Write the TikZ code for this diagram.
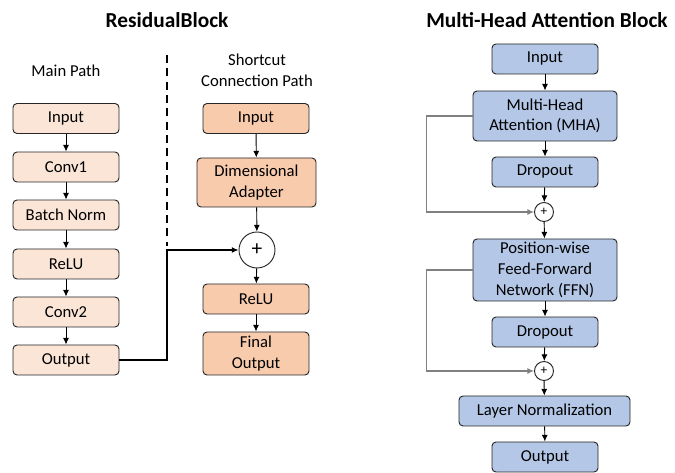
\documentclass[tikz,border=0pt]{standalone}
\usepackage{fontspec}
\setmainfont{Carlito}
\usetikzlibrary{arrows.meta}
\definecolor{paleorange}{HTML}{FBE5D6}
\definecolor{deeporange}{HTML}{F8CBAD}
\definecolor{paleblue}{HTML}{B4C7E7}
\definecolor{edgegray}{HTML}{262626}
\begin{document}
\begin{tikzpicture}[x=0.75pt,y=-0.75pt,
  >={Latex[length=5pt,width=4.5pt]},
  box/.style={draw=edgegray,line width=0.7pt,rounded corners=3pt,align=center,
    inner sep=0pt,minimum width=106*0.75pt,minimum height=30*0.75pt,
    font=\fontsize{12.5}{15.5}\selectfont},
  mainbox/.style={box,fill=paleorange},
  cutbox/.style={box,fill=deeporange},
  mhabox/.style={box,fill=paleblue},
  sumnode/.style={draw=edgegray,line width=0.7pt,circle,fill=white,inner sep=0pt},
  heading/.style={font=\fontsize{16}{19}\selectfont\bfseries},
  label/.style={align=center,font=\fontsize{12.5}{15.5}\selectfont},
  flow/.style={->,line width=0.7pt,black}]
\useasboundingbox (0,0) rectangle (675,473);

\node[heading] (t1) at (167,20) {ResidualBlock};
\node[heading] (t2) at (547,20) {Multi-Head Attention Block};

\node[label] (mainlbl) at (66,71) {Main Path};
\node[label] (cutlbl) at (257,70) {Shortcut\\Connection Path};
\draw[line width=1.4pt,dash pattern=on 6pt off 4pt] (167,55) -- (167,246);

\node[mainbox] (min)  at (66,118.5) {Input};
\node[mainbox] (conv1) at (66,167) {Conv1};
\node[mainbox] (bn)   at (66,215) {Batch Norm};
\node[mainbox] (relu1) at (66,264) {ReLU};
\node[mainbox] (conv2) at (66,312) {Conv2};
\node[mainbox] (mout) at (66,360) {Output};

\node[cutbox] (cin) at (256,118.5) {Input};
\node[cutbox,minimum width=119*0.75pt,minimum height=49*0.75pt] (adapt) at (256.5,182.5) {Dimensional\\Adapter};
\node[sumnode,minimum size=36*0.75pt,font=\fontsize{16}{18}\selectfont] (sum) at (257,250) {+};
\node[cutbox] (relu2) at (256,299) {ReLU};
\node[cutbox,minimum height=43*0.75pt] (final) at (256,353.5) {Final\\Output};
\coordinate (bend) at (167,360);

\draw[flow] (min) -- (conv1);
\draw[flow] (conv1) -- (bn);
\draw[flow] (bn) -- (relu1);
\draw[flow] (relu1) -- (conv2);
\draw[flow] (conv2) -- (mout);
\draw[flow] (cin) -- (adapt);
\draw[flow] (adapt) -- (sum);
\draw[flow] (sum) -- (relu2);
\draw[flow] (relu2) -- (final);
\draw[->,line width=1.5pt] (mout.east) -- (bend) |- (sum.west);

\node[mhabox] (ain) at (545,59) {Input};
\node[mhabox,minimum width=144*0.75pt,minimum height=50*0.75pt] (mha) at (545,116) {Multi-Head\\Attention (MHA)};
\node[mhabox] (drop1) at (545,172) {Dropout};
\node[sumnode,minimum size=19*0.75pt,font=\fontsize{10}{11}\selectfont] (add1) at (544,212) {+};
\node[mhabox,minimum width=144*0.75pt,minimum height=62*0.75pt] (ffn) at (545,270) {Position-wise\\Feed-Forward\\Network (FFN)};
\node[mhabox] (drop2) at (545,332) {Dropout};
\node[sumnode,minimum size=19*0.75pt,font=\fontsize{10}{11}\selectfont] (add2) at (544,371) {+};
\node[mhabox,minimum width=171*0.75pt] (norm) at (544.5,411) {Layer Normalization};
\node[mhabox] (aout) at (545,457) {Output};

\draw[flow] (ain) -- (mha);
\draw[flow] (mha) -- (drop1);
\draw[flow] (drop1) -- (add1);
\draw[flow] (add1) -- (ffn);
\draw[flow] (ffn) -- (drop2);
\draw[flow] (drop2) -- (add2);
\draw[flow] (add2) -- (norm);
\draw[flow] (norm) -- (aout);
\draw[->,gray,line width=0.8pt] (mha.west) -- ++(-46,0) |- (add1.west);
\draw[->,gray,line width=0.8pt] (ffn.west) -- ++(-46,0) |- (add2.west);
\end{tikzpicture}
\end{document}
